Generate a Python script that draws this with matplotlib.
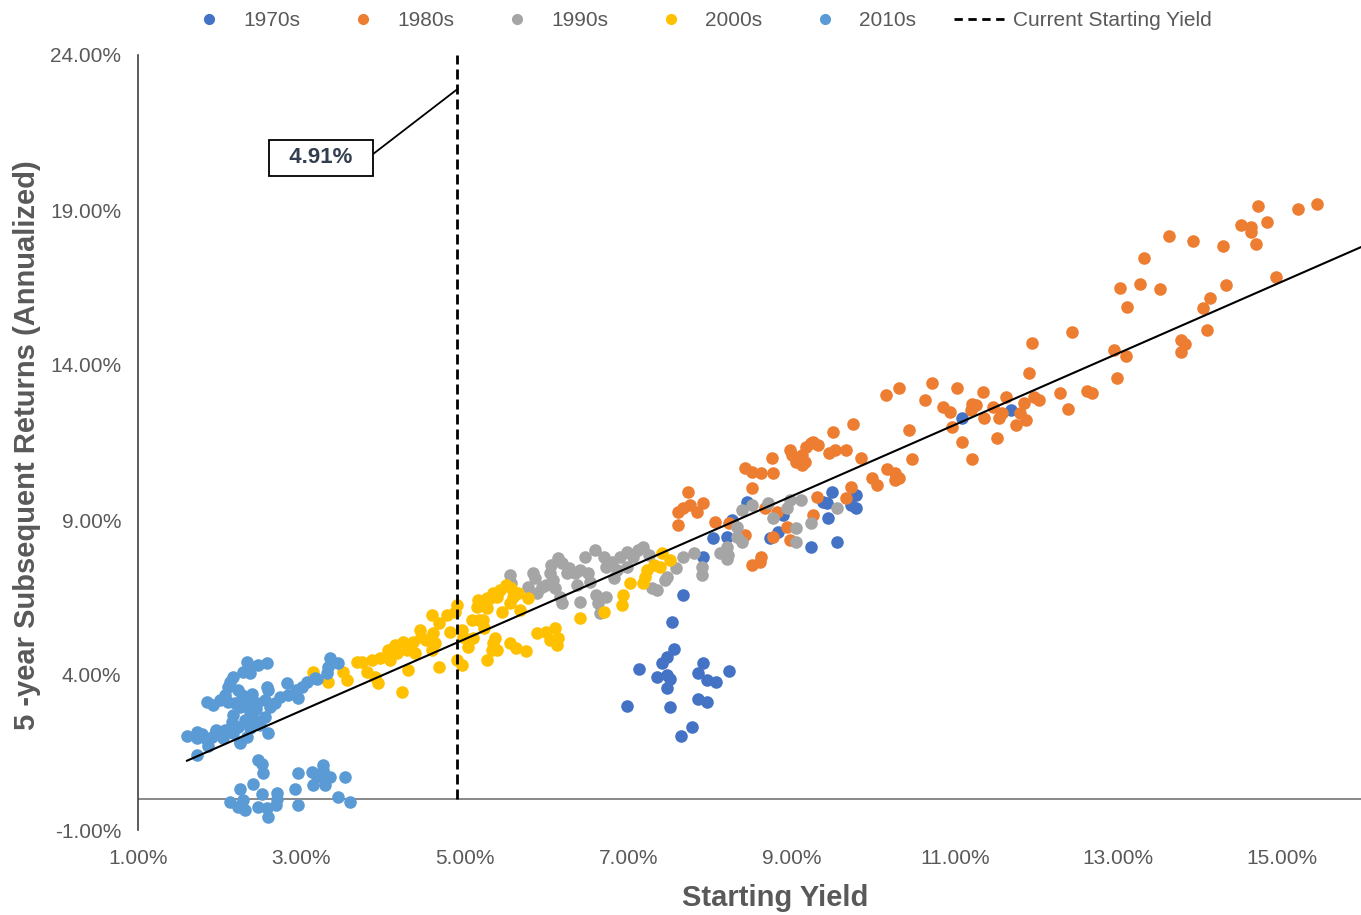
import matplotlib
matplotlib.use("Agg")
import matplotlib.pyplot as plt
from matplotlib.lines import Line2D
import numpy as np

plt.rcParams['font.family'] = ['Liberation Sans', 'DejaVu Sans']

# ---------------- data (percent) ----------------
x_1970s = [7.67, 7.54, 7.56, 7.48, 7.42, 7.13, 7.35, 7.48, 7.51, 7.48, 6.98, 7.51, 7.91, 7.86, 7.96,
           8.08, 8.24, 7.85, 7.97, 7.78, 7.65, 7.92, 8.04, 8.21, 8.27, 8.46, 8.73, 8.83, 8.89, 9.24,
           9.38, 9.43, 9.44, 9.50, 9.55, 9.73, 9.79, 9.79, 11.09, 11.69]
y_1970s = [6.58, 5.71, 4.84, 4.58, 4.39, 4.19, 3.94, 4.00, 3.87, 3.58, 3.00, 2.97, 4.39, 4.06, 3.84,
           3.77, 4.13, 3.23, 3.13, 2.32, 2.03, 7.81, 8.42, 8.45, 9.00, 9.58, 8.42, 8.61, 9.16, 8.13,
           9.58, 9.55, 9.06, 9.90, 8.29, 9.48, 9.81, 9.39, 12.29, 12.55]

x_1980s = [7.61, 7.67, 7.76, 7.84, 7.73, 7.92, 7.61, 8.06, 8.24, 8.43, 8.52, 8.43, 8.52, 8.63, 8.77,
           8.76, 8.51, 8.61, 8.63, 8.67, 8.82, 8.77, 8.94, 8.98, 8.98, 9.00, 9.06, 9.13, 9.18, 9.24,
           9.32, 9.13, 9.26, 9.31, 9.46, 9.53, 9.67, 9.67, 9.73, 9.85, 9.99, 10.04, 10.16, 10.32, 10.72,
           10.63, 11.03, 10.85, 10.94, 11.20, 11.26, 10.96, 11.08, 11.21, 10.44, 10.48, 9.75, 9.51, 9.16,
           9.26, 10.17, 10.26, 10.32, 10.26, 11.34, 11.94, 12.43, 11.91, 11.21, 11.46, 11.36, 11.54, 11.58,
           11.63, 11.79, 11.75, 11.87, 11.85, 11.97, 12.03, 12.28, 12.38, 12.62, 12.68, 12.95, 13.09, 12.98,
           11.52, 13.11, 13.02, 13.27, 13.31, 13.51, 13.62, 13.91, 13.77, 13.81, 13.77, 14.08, 14.03, 14.12,
           14.32, 14.28, 14.50, 14.62, 14.62, 14.68, 14.71, 14.82, 14.93, 15.20, 15.43]
y_1980s = [9.26, 9.39, 9.48, 9.26, 9.90, 9.55, 8.84, 8.94, 8.90, 8.52, 10.03, 10.68, 10.55, 10.52, 10.52,
           11.00, 7.55, 7.65, 7.81, 9.39, 9.26, 8.45, 8.77, 8.35, 11.26, 11.10, 10.87, 10.77, 11.35, 11.48,
           11.42, 11.10, 9.16, 9.74, 11.16, 11.26, 11.26, 9.71, 10.06, 11.00, 10.35, 10.13, 13.03, 13.26, 13.42,
           12.87, 13.26, 12.65, 12.48, 12.55, 12.71, 12.00, 11.52, 10.97, 11.90, 10.97, 12.10, 11.84, 10.87,
           11.52, 10.65, 10.52, 10.35, 10.29, 13.13, 14.71, 15.06, 13.74, 12.74, 12.65, 12.29, 12.29, 12.45,
           12.97, 12.45, 12.06, 12.23, 12.77, 12.97, 12.87, 13.10, 12.58, 13.16, 13.10, 14.48, 14.29, 13.58,
           11.65, 15.87, 16.48, 16.61, 17.45, 16.45, 18.16, 18.00, 14.81, 14.68, 14.42, 15.13, 15.84, 16.16,
           16.58, 17.84, 18.52, 18.45, 18.29, 17.90, 19.13, 18.61, 16.84, 19.03, 19.19]

x_1990s = [5.55, 5.57, 5.77, 5.83, 5.86, 5.89, 5.94, 6.00, 6.04, 6.06, 6.08, 6.14, 6.19, 6.10, 6.16,
           6.19, 6.25, 6.28, 6.35, 6.37, 6.41, 6.41, 6.47, 6.51, 6.53, 6.59, 6.61, 6.63, 6.65, 6.71,
           6.73, 6.73, 6.80, 6.83, 6.86, 6.90, 6.98, 6.98, 7.06, 7.12, 7.18, 7.26, 7.45, 7.35, 7.29,
           7.48, 7.59, 7.67, 7.81, 7.90, 7.90, 8.12, 8.21, 8.22, 8.21, 8.33, 8.33, 8.39, 8.39, 8.51,
           8.71, 8.77, 8.94, 8.98, 9.06, 9.06, 9.12, 9.24, 9.56]
y_1990s = [7.23, 6.97, 6.84, 7.29, 7.13, 6.65, 6.84, 6.90, 7.29, 7.55, 7.06, 7.77, 7.61, 6.81, 6.52,
           6.32, 7.29, 7.45, 7.29, 6.90, 7.39, 6.35, 7.81, 7.29, 7.00, 8.03, 6.58, 6.32, 6.00, 7.81,
           7.48, 6.52, 7.65, 7.13, 7.39, 7.81, 7.97, 7.48, 7.81, 8.03, 8.13, 7.87, 7.06, 6.74, 6.81,
           7.16, 7.45, 7.81, 7.94, 7.48, 7.23, 7.94, 8.13, 7.87, 7.74, 8.77, 8.45, 8.29, 9.32, 9.48,
           9.55, 9.06, 9.39, 9.65, 8.74, 8.29, 9.65, 8.90, 9.39]

x_2000s = [3.14, 3.32, 3.51, 3.56, 3.68, 3.74, 3.80, 3.86, 3.90, 3.94, 3.96, 4.06, 4.08, 4.14, 4.17,
           4.24, 4.29, 4.30, 4.23, 4.36, 4.39, 4.45, 4.47, 4.53, 4.60, 4.61, 4.63, 4.60, 4.69, 4.69,
           4.78, 4.82, 4.88, 4.90, 4.91, 4.96, 4.96, 4.98, 5.04, 5.10, 5.09, 5.15, 5.16, 5.18, 5.24,
           5.27, 5.33, 5.37, 5.39, 5.27, 5.22, 5.27, 5.31, 5.35, 5.43, 5.51, 5.57, 5.59, 5.65, 5.67,
           5.77, 5.45, 5.55, 5.35, 5.39, 5.55, 5.63, 5.75, 5.89, 6.00, 6.04, 6.10, 6.14, 6.13, 6.41,
           6.71, 6.93, 6.94, 7.02, 7.18, 7.20, 7.23, 7.31, 7.41, 7.51, 7.39]
y_2000s = [4.10, 3.77, 4.10, 3.84, 4.42, 4.42, 4.10, 4.48, 3.94, 3.74, 4.55, 4.81, 4.48, 4.97, 4.71,
           5.06, 4.81, 4.16, 3.45, 5.06, 4.71, 5.45, 5.23, 5.13, 5.94, 5.35, 5.03, 4.81, 4.26, 5.68,
           5.94, 5.39, 6.03, 6.26, 4.48, 4.32, 5.45, 5.23, 4.90, 5.19, 5.77, 6.19, 6.42, 5.77, 5.52,
           4.48, 4.81, 5.19, 6.52, 6.48, 5.77, 6.16, 6.48, 6.65, 6.74, 6.90, 6.81, 6.52, 6.65, 6.10,
           6.48, 6.03, 6.32, 5.03, 4.81, 5.03, 4.87, 4.77, 5.35, 5.39, 5.13, 5.52, 5.19, 4.97, 5.84,
           6.03, 6.26, 6.58, 6.97, 6.97, 7.16, 7.39, 7.55, 7.94, 7.71, 7.48]

x_2010s = [1.60, 1.72, 1.72, 1.72, 1.84, 1.86, 1.96, 1.90, 2.06, 2.04, 2.16, 2.22, 2.25, 2.33, 2.59,
           2.43, 2.31, 2.16, 2.37, 2.49, 1.84, 1.92, 2.06, 2.10, 2.12, 2.16, 2.10, 2.19, 2.22, 2.27,
           2.25, 2.33, 2.35, 2.37, 2.28, 2.33, 2.37, 2.47, 2.58, 2.37, 2.46, 2.55, 2.58, 2.59, 2.55,
           2.61, 2.68, 2.74, 2.82, 2.84, 2.94, 2.96, 3.01, 3.07, 3.19, 2.25, 3.35, 3.32, 3.45, 3.31,
           3.17, 1.95, 2.00, 2.15, 2.30, 2.40, 2.45, 1.78,
           2.47, 2.52, 2.53, 2.41, 2.25, 2.52, 2.12, 2.22, 2.31, 2.28, 2.47, 2.58, 2.59, 2.70, 2.70,
           2.69, 2.92, 2.96, 2.96, 3.13, 3.19, 3.14, 3.25, 3.26, 3.27, 3.29, 3.35, 3.45, 3.53, 3.59]
y_2010s = [2.03, 2.17, 1.97, 1.42, 1.90, 1.71, 2.23, 2.01, 2.23, 1.97, 2.13, 2.32, 1.84, 2.01, 2.13,
           2.55, 2.55, 2.71, 2.29, 2.39, 3.14, 3.03, 3.35, 3.61, 3.77, 3.94, 3.13, 3.10, 3.52, 3.35,
           2.97, 3.03, 3.29, 2.81, 4.10, 4.42, 4.06, 4.32, 4.39, 4.26, 3.10, 3.19, 3.61, 3.52, 2.65,
           2.97, 3.10, 3.29, 3.74, 3.35, 3.52, 3.26, 3.61, 3.77, 3.87, 1.81, 4.55, 4.26, 4.39, 4.06,
           3.90, 2.20, 3.20, 2.50, 3.20, 3.40, 2.90, 2.10,
           1.26, 1.13, 0.84, 0.48, 0.32, 0.16, -0.10, -0.26, -0.35, -0.03, -0.26, -0.29, -0.58, 0.19, 0.00,
           -0.19, 0.32, 0.84, -0.19, 0.87, 0.71, 0.45, 0.71, 1.10, 0.94, 0.45, 0.71, 0.06, 0.71, -0.10]

series_names = ['1970s', '1980s', '1990s', '2000s', '2010s']
series_colors = ['#4472C4', '#ED7D31', '#A5A5A5', '#FFC000', '#5B9BD5']
series_x = [x_1970s, x_1980s, x_1990s, x_2000s, x_2010s]
series_y = [y_1970s, y_1980s, y_1990s, y_2000s, y_2010s]

current_yield = 4.91
trend_slope = 1.153
trend_intercept = -0.61
trend_x = [1.6, 16.0]

# callout: box centre, point where leader leaves the box, point on the dashed line
callout_box = (3.24, 20.68)
callout_start = (3.86, 20.77)
callout_end = (current_yield, 22.9)

x_ticks = [1, 3, 5, 7, 9, 11, 13, 15]
y_ticks = [-1, 4, 9, 14, 19, 24]

# ---------------- figure ----------------
W, H = 1361, 915
fig = plt.figure(figsize=(W / 100, H / 100), dpi=100)
ax = fig.add_axes([138 / W, 85 / H, (W - 138) / W, (830 - 55) / H])

for xs, ys, c in zip(series_x, series_y, series_colors):
    ax.scatter(xs, ys, s=82, color=c, linewidths=0, zorder=3)

tx = np.array(trend_x)
ax.plot(tx, trend_slope * tx + trend_intercept, color='black', lw=1.5, zorder=4)

ax.axhline(0, color='#7F7F7F', lw=1.3, zorder=1)
ax.plot([current_yield, current_yield], [0, 24], color='black', lw=2,
        dashes=(3.6, 1.8), zorder=5)

ax.plot([callout_start[0], callout_end[0]], [callout_start[1], callout_end[1]],
        color='black', lw=1.3, zorder=6)
ax.text(callout_box[0], callout_box[1], f'  {current_yield:.2f}%  ',
        fontsize=16, fontweight='bold', color='#333F50', ha='center', va='center',
        bbox=dict(boxstyle='square,pad=0.35', fc='white', ec='black', lw=1.3), zorder=7)

ax.set_xlim(1, 15.97)
ax.set_ylim(-1, 24)
ax.set_xticks(x_ticks)
ax.set_yticks(y_ticks)
ax.set_xticklabels([f'{v:.2f}%' for v in x_ticks])
ax.set_yticklabels([f'{v:.2f}%' for v in y_ticks])
ax.tick_params(length=0, labelsize=15, labelcolor='#595959')
ax.tick_params(axis='x', pad=14)
ax.tick_params(axis='y', pad=12)

for s in ['top', 'right', 'bottom']:
    ax.spines[s].set_visible(False)
ax.spines['left'].set_color('#404040')
ax.spines['left'].set_linewidth(1.2)

ax.set_xlabel('Starting Yield', fontsize=21, fontweight='bold', color='#595959')
ax.xaxis.set_label_coords(0.521, -0.0877)
ax.xaxis.label.set_va('center')
ax.set_ylabel('5 -year Subsequent Returns (Annualized)', fontsize=21, fontweight='bold',
              color='#595959')
ax.yaxis.set_label_coords(-0.0908, 0.497)
ax.yaxis.label.set_va('center')

handles = [Line2D([], [], marker='o', ls='none', color=c, markersize=7)
           for c in series_colors]
handles.append(Line2D([], [], color='black', lw=2, dashes=(3, 2)))
labels = series_names + ['Current Starting Yield']
fig.legend(handles, labels, loc='center', bbox_to_anchor=(0.513, 1 - 21 / H), ncol=6,
           frameon=False, fontsize=15, labelcolor='#595959', columnspacing=1.8,
           handlelength=2.4, handletextpad=0.45)

fig.savefig('out.png', dpi=100)
